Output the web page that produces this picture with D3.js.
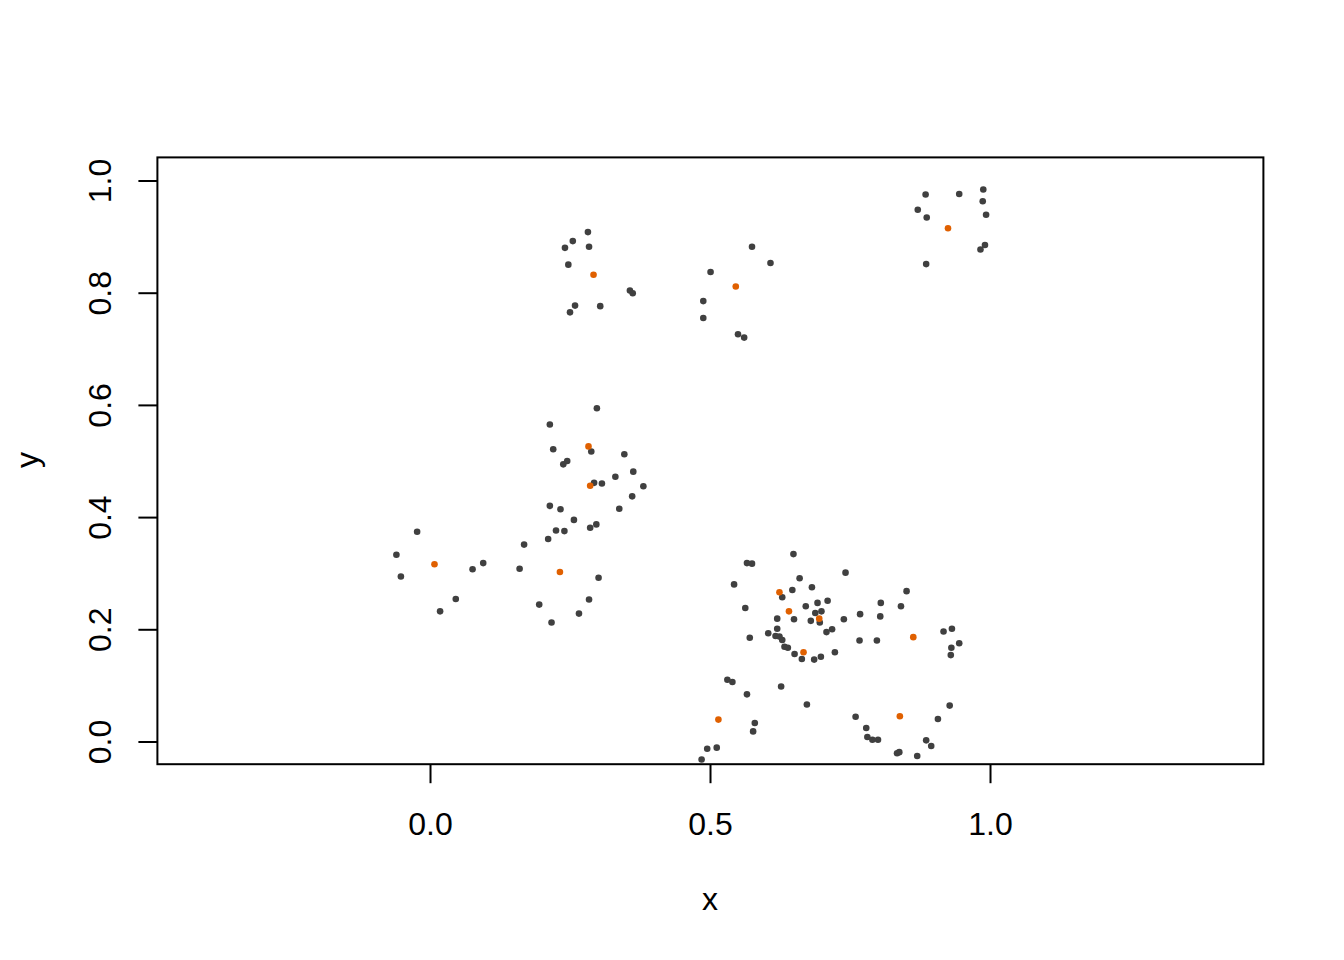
<!DOCTYPE html>
<html>
<head>
<meta charset="utf-8">
<script src="https://cdn.jsdelivr.net/npm/d3@7"></script>
<style>
  html, body { margin: 0; padding: 0; background: #fff; }
  svg { display: block; }
  text { font-family: "Liberation Sans", Arial, Helvetica, sans-serif; }
</style>
</head>
<body>
<script>
// ---- data ----
const grayX = [
  0.282,0.255,0.241,0.284,0.247,0.357,0.362,0.259,0.250,0.304,
  0.575,0.608,0.501,0.488,0.488,0.550,0.561,
  0.885,0.945,0.988,0.987,0.993,0.871,0.887,0.991,0.983,0.886,
  0.298,0.214,0.220,0.288,0.347,0.245,0.238,0.293,0.307,0.331,0.363,0.381,0.361,
  0.214,0.233,0.257,0.225,0.240,0.286,0.297,0.338,0.211,0.168,0.160,0.301,0.284,0.195,0.266,0.217,
  -0.023,-0.060,-0.052,0.076,0.095,0.046,0.018,
  0.649,0.566,0.575,0.742,0.543,0.660,0.629,0.647,0.682,0.710,0.692,0.671,0.563,0.688,0.699,
  0.696,0.680,0.650,0.620,0.739,0.620,0.604,0.617,0.624,0.629,0.708,0.718,0.571,0.633,0.639,
  0.651,0.664,0.686,0.698,0.723,
  0.851,0.805,0.841,0.768,0.804,0.767,0.798,0.917,0.932,0.945,0.931,0.930,
  0.531,0.540,0.566,0.580,0.577,0.512,0.495,0.485,0.627,0.673,
  0.760,0.907,0.928,0.779,0.781,0.790,0.800,0.886,0.895,0.834,0.838,0.870
];
const grayY = [
  0.908,0.892,0.880,0.882,0.850,0.804,0.799,0.777,0.765,0.776,
  0.882,0.853,0.837,0.785,0.755,0.726,0.720,
  0.975,0.976,0.984,0.963,0.939,0.948,0.934,0.885,0.877,0.851,
  0.594,0.565,0.521,0.517,0.512,0.500,0.494,0.461,0.460,0.472,0.481,0.455,0.437,
  0.420,0.414,0.395,0.376,0.375,0.381,0.387,0.415,0.361,0.351,0.308,0.292,0.253,0.244,0.228,0.212,
  0.374,0.333,0.294,0.307,0.318,0.254,0.232,
  0.334,0.318,0.317,0.301,0.280,0.291,0.257,0.270,0.275,0.251,0.247,0.241,0.238,0.229,0.232,
  0.212,0.215,0.218,0.219,0.218,0.201,0.193,0.188,0.187,0.181,0.195,0.200,0.185,0.169,0.167,
  0.156,0.147,0.146,0.151,0.159,
  0.268,0.247,0.241,0.227,0.223,0.180,0.180,0.196,0.201,0.175,0.167,0.154,
  0.110,0.106,0.084,0.033,0.018,-0.011,-0.013,-0.032,0.098,0.066,
  0.044,0.040,0.064,0.024,0.008,0.003,0.003,0.002,-0.008,-0.021,-0.019,-0.026
];
const centerX = [0.292,0.546,0.925,0.283,0.286,0.232,0.008,0.624,0.641,0.695,0.667,0.863,0.515,0.839];
const centerY = [0.832,0.811,0.915,0.526,0.456,0.302,0.316,0.266,0.232,0.219,0.159,0.186,0.039,0.045];
const xTicks = [0.0, 0.5, 1.0];
const yTicks = [0.0, 0.2, 0.4, 0.6, 0.8, 1.0];
const xTitle = "x";
const yTitle = "y";

// ---- layout ----
const W = 1344, H = 960;
const L = 157.4, R = 1263.4, T = 157.4, B = 764.2;
const x = d3.scaleLinear().domain([-0.4868, 1.4882]).range([L, R]);
const y = d3.scaleLinear().domain([-0.0405, 1.0412]).range([B, T]);

const svg = d3.select("body").append("svg").attr("width", W).attr("height", H);

// points
svg.append("g").selectAll("circle").data(d3.range(grayX.length)).join("circle")
  .attr("cx", i => x(grayX[i])).attr("cy", i => y(grayY[i]))
  .attr("r", 3.3).attr("fill", "#404040");
svg.append("g").selectAll("circle").data(d3.range(centerX.length)).join("circle")
  .attr("cx", i => x(centerX[i])).attr("cy", i => y(centerY[i]))
  .attr("r", 3.3).attr("fill", "#e06000");

// box
svg.append("rect").attr("x", L).attr("y", T).attr("width", R - L).attr("height", B - T)
  .attr("fill", "none").attr("stroke", "#000").attr("stroke-width", 2);

// x axis
const gx = svg.append("g").attr("transform", `translate(0,${B})`)
  .call(d3.axisBottom(x).tickValues(xTicks).tickSize(19).tickPadding(29).tickFormat(d3.format(".1f")));
gx.select(".domain").remove();
gx.selectAll(".tick line").attr("stroke", "#000").attr("stroke-width", 2);
gx.selectAll(".tick text").attr("font-size", 32).attr("fill", "#000")
  .attr("font-family", "Liberation Sans, Arial, sans-serif");

// y axis
const gy = svg.append("g").attr("transform", `translate(${L},0)`)
  .call(d3.axisLeft(y).tickValues(yTicks).tickSize(19).tickFormat(d3.format(".1f")));
gy.select(".domain").remove();
gy.selectAll(".tick line").attr("stroke", "#000").attr("stroke-width", 2);
gy.selectAll(".tick text")
  .attr("font-size", 32).attr("fill", "#000")
  .attr("font-family", "Liberation Sans, Arial, sans-serif")
  .attr("x", 0).attr("dy", null)
  .attr("text-anchor", "middle")
  .attr("dominant-baseline", "central")
  .attr("transform", `translate(${100 - L},0) rotate(-90)`);

// titles
svg.append("text").attr("x", 710).attr("y", 910).attr("text-anchor", "middle")
  .attr("font-size", 32).attr("fill", "#000").text(xTitle);
svg.append("text").attr("transform", "translate(38,460) rotate(-90)")
  .attr("text-anchor", "middle").attr("font-size", 32).attr("fill", "#000").text(yTitle);
</script>
</body>
</html>
